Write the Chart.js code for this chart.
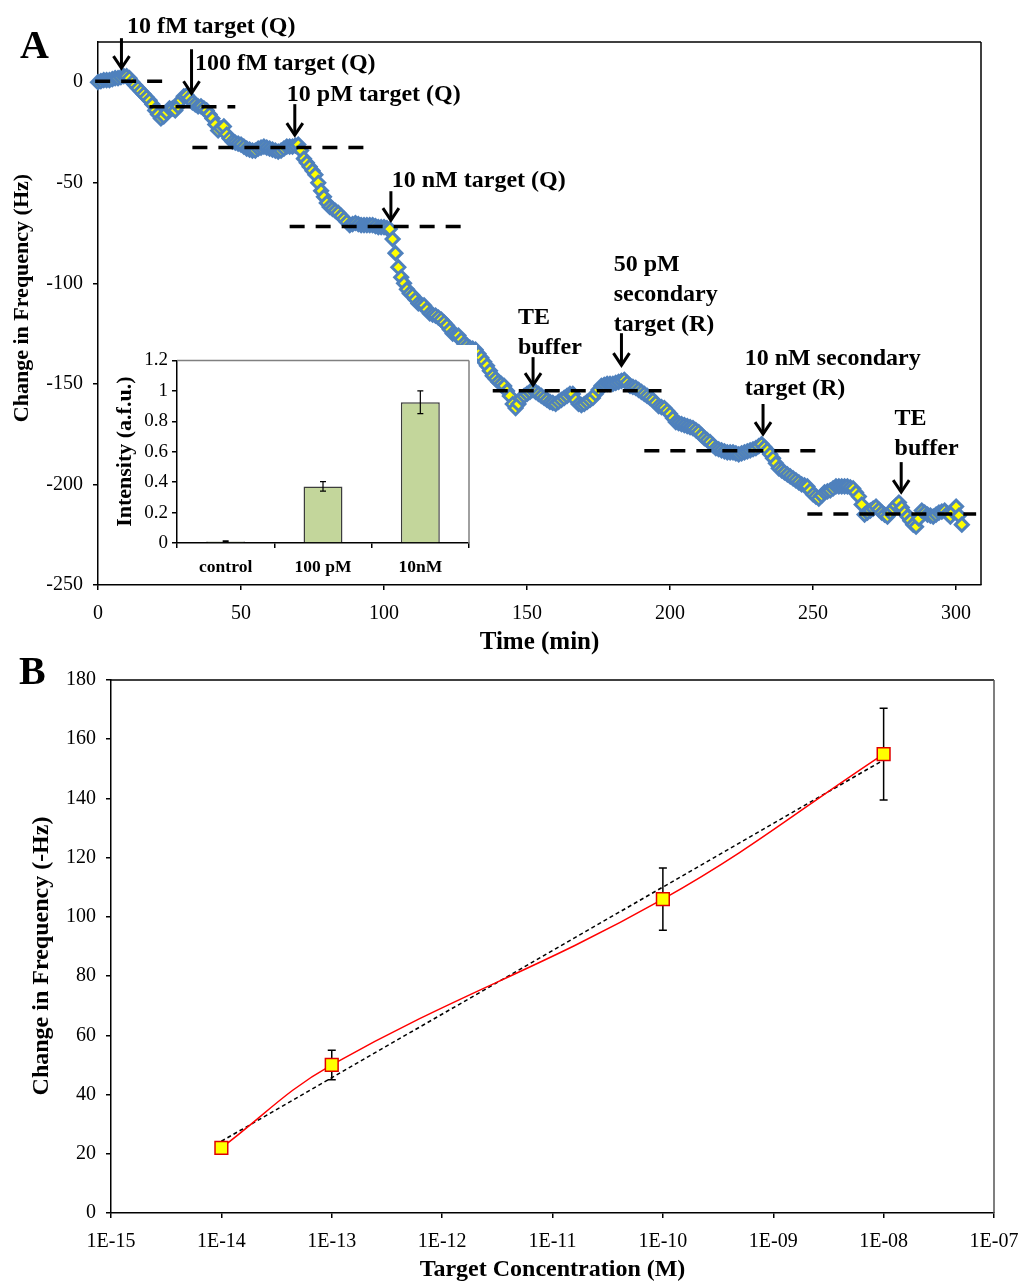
<!DOCTYPE html>
<html>
<head>
<meta charset="utf-8">
<script src="https://cdn.jsdelivr.net/npm/chart.js@4.4.1/dist/chart.umd.min.js"></script>
<style>
  html, body { margin: 0; padding: 0; background: #fff; }
  body { width: 1023px; height: 1284px; position: relative; overflow: hidden; }
  .panel { position: absolute; }
  #insetBox { background: #fff; }
</style>
</head>
<body>
<div class="panel" id="boxA" style="left:0;top:0;width:1023px;height:658px;"><canvas id="chartA"></canvas></div>
<div class="panel" id="insetBox" style="left:100px;top:345px;width:377px;height:239px;"><canvas id="chartInset"></canvas></div>
<div class="panel" id="boxB" style="left:0;top:658px;width:1023px;height:626px;"><canvas id="chartB"></canvas></div>

<script>
// ---------- Panel A: frequency shift vs time (one reading per minute) ----------
const SAMPLE_STEP_MIN = 1;
const freqShiftHz = [
  0, 0.5, 1, 1, 1, 1.5, 2, 2, 2.5, 3,
  3, 2, 0, -1.5, -3, -4.5, -6, -7.5, -9, -11,
  -14, -16, -18, -17, -15, -13, -13, -14, -12, -9,
  -7, -6.5, -8, -10, -11, -12, -12, -13, -14, -16,
  -18, -21, -24, -23, -22, -26, -28, -29.5, -30, -30.5,
  -31, -32, -33, -33.5, -34, -34, -33, -32.5, -32, -32.5,
  -33, -33.5, -34, -34.5, -34, -33, -32, -32, -32, -31.5,
  -31, -34, -38, -40, -42, -44, -46, -50, -54, -57,
  -60, -62, -63, -64, -65, -66.5, -68, -69.5, -71, -70.5,
  -70, -70.5, -71, -71, -71, -71, -71, -71.5, -72, -72,
  -72, -72.5, -73, -78, -85, -92, -97, -100, -103, -105,
  -106, -108, -110, -110.5, -111, -113, -115, -115.5, -116, -117,
  -118, -119.5, -121, -123, -125, -125.5, -126, -128, -130, -131,
  -132, -132.5, -133, -135, -137, -139, -141, -143.5, -146, -147.5,
  -149, -150, -151, -153.5, -156, -160, -162, -160, -157, -156,
  -155, -154, -153, -154, -155, -156, -157, -158, -159, -159.5,
  -160, -159, -158, -157, -156, -155, -155, -158, -160, -160.5,
  -160, -159, -158, -157, -155, -153, -151, -150.5, -150, -150,
  -150, -149.5, -149, -148.5, -148, -149.5, -151, -151.5, -152, -153,
  -154, -155, -156, -157, -158, -159.5, -161, -161.5, -162, -163.5,
  -165, -167, -169, -169.5, -170, -170.5, -171, -171.5, -172, -173,
  -174, -175.5, -177, -178, -179, -180.5, -182, -182.5, -183, -183.5,
  -184, -184, -184, -184.5, -185, -184.5, -184, -183.5, -183, -182.5,
  -182, -181, -180, -181.5, -183, -185, -187, -189.5, -192, -193,
  -194, -195, -196, -197, -198, -199, -200, -200.5, -201, -203,
  -205, -206, -207, -205.5, -204, -203.5, -203, -202, -201, -201,
  -201, -201, -201, -201.5, -202, -204, -206, -210, -215, -214,
  -213, -212, -211, -212.5, -214, -215, -216, -214, -212, -210.5,
  -209, -211.5, -214, -216, -218, -220, -221, -217, -213, -214,
  -215, -215.5, -216, -215, -214, -213.5, -213, -214.5, -216, -213.5,
  -211, -215.5, -220
];
const timeTicks = [0, 50, 100, 150, 200, 250, 300];
const freqTicks = [-250, -200, -150, -100, -50, 0];

// steady-state levels after each addition
const plateauStartMin = [-1, 18, 33, 67, 138, 191, 248];
const plateauEndMin   = [25, 48, 93, 127, 197, 251, 307];
const plateauHz       = [0.5, -12.2, -32.5, -71.8, -153.4, -183.2, -214.7];

// additions marked on the trace (text anchor and arrow given in min / Hz)
const additions = [
  { lines: ['10 fM target (Q)'], t: 10.1, hz: 27.8, arrowT: 8.2, arrowFrom: 21.9, arrowTo: 7 },
  { lines: ['100 fM target (Q)'], t: 33.9, hz: 9.4, arrowT: 32.7, arrowFrom: 16.4, arrowTo: -5.5 },
  { lines: ['10 pM target (Q)'], t: 66.0, hz: -6.5, arrowT: 68.8, arrowFrom: -10.9, arrowTo: -26.3 },
  { lines: ['10 nM target (Q)'], t: 102.7, hz: -49.2, arrowT: 102.4, arrowFrom: -54.2, arrowTo: -68.6 },
  { lines: ['TE', 'buffer'], t: 146.8, hz: -117.3, arrowT: 152.1, arrowFrom: -136.7, arrowTo: -150.6 },
  { lines: ['50 pM', 'secondary', 'target (R)'], t: 180.3, hz: -91.0, arrowT: 183.0, arrowFrom: -124.8, arrowTo: -140.7 },
  { lines: ['10 nM secondary', 'target (R)'], t: 226.1, hz: -137.7, arrowT: 232.5, arrowFrom: -160, arrowTo: -175 },
  { lines: ['TE', 'buffer'], t: 278.5, hz: -167.5, arrowT: 280.8, arrowFrom: -188.9, arrowTo: -203.8 }
];

// ---------- Inset: fluorescence intensity ----------
const insetCategories = ['control', '100 pM', '10nM'];
const insetIntensity = [0.01, 0.372, 0.925];
const insetError = [0.004, 0.031, 0.075];
const insetTicks = [0, 0.2, 0.4, 0.6, 0.8, 1, 1.2];

// ---------- Panel B: calibration ----------
const concLabels = ['1E-14', '1E-13', '1E-10', '1E-08'];
const shiftB = [22, 50, 106, 155];
const shiftBErr = [1.5, 5, 10.5, 15.5];
const concTickLabels = ['1E-15', '1E-14', '1E-13', '1E-12', '1E-11', '1E-10', '1E-09', '1E-08', '1E-07'];
const shiftBTicks = [0, 20, 40, 60, 80, 100, 120, 140, 160, 180];

// ---------------------------------------------------------------
const SERIF = "'Liberation Serif', 'Times New Roman', serif";
Chart.defaults.font.family = SERIF;
Chart.defaults.color = '#000';

const concValues = concLabels.map(Number);

// least-squares line of shift vs log10(concentration)
const logC = concValues.map(Math.log10);
const nB = logC.length;
const meanX = logC.reduce((a, b) => a + b, 0) / nB;
const meanY = shiftB.reduce((a, b) => a + b, 0) / nB;
let sxy = 0, sxx = 0;
logC.forEach((lx, i) => { sxy += (lx - meanX) * (shiftB[i] - meanY); sxx += (lx - meanX) ** 2; });
const fitSlope = sxy / sxx;
const fitIcpt = meanY - fitSlope * meanX;
const fitPoints = [concValues[0], concValues[nB - 1]].map(c => ({ x: c, y: fitIcpt + fitSlope * Math.log10(c) }));

// outline of the plot area (top and right edges)
const frame = {
  id: 'frame',
  afterDatasetsDraw(chart, args, opts) {
    const { ctx, chartArea: { left, right, top, bottom } } = chart;
    ctx.save();
    ctx.lineWidth = opts.width || 1.5;
    ctx.strokeStyle = opts.topColor || '#000';
    ctx.beginPath(); ctx.moveTo(left, top); ctx.lineTo(right, top); ctx.stroke();
    ctx.strokeStyle = opts.rightColor || '#000';
    ctx.beginPath(); ctx.moveTo(right, top); ctx.lineTo(right, bottom); ctx.stroke();
    ctx.restore();
  }
};

// panel letter and the rotated y-axis title
const panelText = {
  id: 'panelText',
  afterDraw(chart, args, opts) {
    const { ctx } = chart;
    ctx.save();
    ctx.fillStyle = '#000';
    ctx.font = 'bold 40px ' + SERIF;
    ctx.textBaseline = 'alphabetic';
    ctx.textAlign = 'left';
    ctx.fillText(opts.letter, opts.letterX, opts.letterY);
    ctx.translate(opts.titleX, opts.titleY);
    ctx.rotate(-Math.PI / 2);
    ctx.font = 'bold ' + opts.titleSize + 'px ' + SERIF;
    ctx.textAlign = 'center';
    ctx.textBaseline = 'middle';
    ctx.fillText(opts.title, 0, 0);
    ctx.restore();
  }
};

// vertical error bars with caps
const errorBars = {
  id: 'errorBars',
  draw(chart, opts) {
    const meta = chart.getDatasetMeta(opts.datasetIndex);
    const ds = chart.data.datasets[opts.datasetIndex];
    const yScale = chart.scales.y;
    const { ctx } = chart;
    ctx.save();
    ctx.strokeStyle = opts.color || '#000';
    ctx.lineWidth = opts.width || 1.5;
    meta.data.forEach((el, i) => {
      const raw = ds.data[i];
      const v = typeof raw === 'object' ? raw.y : raw;
      const e = opts.errors[i];
      const x = el.x;
      const yHi = yScale.getPixelForValue(v + e);
      const yLo = yScale.getPixelForValue(v - e);
      ctx.beginPath();
      ctx.moveTo(x, yHi); ctx.lineTo(x, yLo);
      ctx.moveTo(x - opts.cap, yHi); ctx.lineTo(x + opts.cap, yHi);
      ctx.moveTo(x - opts.cap, yLo); ctx.lineTo(x + opts.cap, yLo);
      ctx.stroke();
    });
    ctx.restore();
  },
  beforeDatasetsDraw(chart, args, opts) { if (opts.layer === 'below') this.draw(chart, opts); },
  afterDatasetsDraw(chart, args, opts) { if (opts.layer !== 'below') this.draw(chart, opts); }
};

// arrows and text for each addition
const additionNotes = {
  id: 'additionNotes',
  afterDatasetsDraw(chart, args, opts) {
    const { ctx, scales: { x, y } } = chart;
    ctx.save();
    ctx.fillStyle = '#000';
    ctx.strokeStyle = '#000';
    ctx.font = 'bold 24px ' + SERIF;
    ctx.textAlign = 'left';
    ctx.textBaseline = 'middle';
    opts.items.forEach(a => {
      const tx = x.getPixelForValue(a.t);
      const ty = y.getPixelForValue(a.hz);
      a.lines.forEach((line, k) => ctx.fillText(line, tx, ty + k * 30));
      const ax = x.getPixelForValue(a.arrowT);
      const y0 = y.getPixelForValue(a.arrowFrom);
      const y1 = y.getPixelForValue(a.arrowTo);
      ctx.lineWidth = 3;
      ctx.lineJoin = 'miter';
      ctx.beginPath();
      ctx.moveTo(ax, y0); ctx.lineTo(ax, y1 - 1);
      ctx.stroke();
      ctx.beginPath();
      ctx.moveTo(ax - 8, y1 - 12); ctx.lineTo(ax, y1); ctx.lineTo(ax + 8, y1 - 12);
      ctx.stroke();
    });
    ctx.restore();
  }
};

const tickMarks = (len) => ({ drawOnChartArea: false, drawTicks: true, tickLength: len, color: '#000', lineWidth: 1.5 });

// ---------------- Panel A ----------------
const traceData = freqShiftHz.map((v, i) => ({ x: i * SAMPLE_STEP_MIN, y: v }));
const plateauSets = plateauHz.map((hz, i) => ({
  type: 'line',
  data: [{ x: plateauStartMin[i], y: hz }, { x: plateauEndMin[i], y: hz }],
  borderColor: '#000',
  borderWidth: 3.5,
  borderDash: [15, 11],
  pointRadius: 0,
  order: 1,
  clip: false
}));

new Chart(document.getElementById('chartA'), {
  type: 'scatter',
  data: {
    datasets: [
      ...plateauSets,
      {
        data: traceData,
        showLine: false,
        pointStyle: 'rectRot',
        pointRadius: 6.5,
        pointBorderWidth: 3,
        pointBackgroundColor: '#FFFF00',
        pointBorderColor: '#4F81BD',
        order: 2,
        clip: false
      }
    ]
  },
  options: {
    responsive: true,
    maintainAspectRatio: false,
    animation: false,
    events: [],
    layout: { padding: { left: 0, top: 42, right: 42, bottom: 0 } },
    plugins: {
      legend: { display: false },
      tooltip: { enabled: false },
      frame: { topColor: '#000', rightColor: '#000' },
      panelText: { letter: 'A', letterX: 20, letterY: 58, title: 'Change in Frequency (Hz)', titleSize: 22, titleX: 22, titleY: 298 },
      additionNotes: { items: additions }
    },
    scales: {
      x: {
        type: 'linear', min: 0, max: 308.7,
        afterBuildTicks: s => { s.ticks = timeTicks.map(v => ({ value: v })); },
        afterFit: s => { s.height = 73; s.paddingLeft = 0; s.paddingRight = 0; },
        ticks: { font: { size: 20 }, padding: 12, maxRotation: 0, autoSkip: false, callback: v => String(v) },
        grid: tickMarks(5),
        border: { color: '#000', width: 1.5 },
        title: { display: true, text: 'Time (min)', font: { size: 25, weight: 'bold' }, padding: { top: 0, bottom: 0 } }
      },
      y: {
        type: 'linear', min: -250, max: 20,
        afterBuildTicks: s => { s.ticks = freqTicks.map(v => ({ value: v })); },
        afterFit: s => { s.width = 98; },
        ticks: { font: { size: 20 }, padding: 10, autoSkip: false, callback: v => String(v) },
        grid: tickMarks(5),
        border: { color: '#000', width: 1.5 }
      }
    }
  },
  plugins: [frame, panelText, additionNotes]
});

// ---------------- Inset ----------------
new Chart(document.getElementById('chartInset'), {
  type: 'bar',
  data: {
    labels: insetCategories,
    datasets: [{
      data: insetIntensity,
      backgroundColor: '#C3D69B',
      borderColor: '#3C3C3C',
      borderWidth: 1.5,
      barPercentage: 0.4,
      categoryPercentage: 1
    }]
  },
  options: {
    responsive: true,
    maintainAspectRatio: false,
    animation: false,
    events: [],
    layout: { padding: { left: 0, top: 15, right: 8, bottom: 0 } },
    plugins: {
      legend: { display: false },
      tooltip: { enabled: false },
      frame: { topColor: '#808080', rightColor: '#808080', width: 1.5 },
      errorBars: { datasetIndex: 0, errors: insetError, cap: 3, width: 1.2, layer: 'above' }
    },
    scales: {
      x: {
        afterFit: s => { s.height = 41; },
        ticks: { font: { size: 17.5, weight: 'bold' }, padding: 9, maxRotation: 0 },
        grid: { ...tickMarks(5), offset: true },
        border: { color: '#000', width: 1.5 }
      },
      y: {
        min: 0, max: 1.2,
        afterBuildTicks: s => { s.ticks = insetTicks.map(v => ({ value: v })); },
        afterFit: s => { s.width = 77; },
        ticks: { font: { size: 19 }, padding: 4, callback: v => String(v) },
        grid: tickMarks(5),
        border: { color: '#000', width: 1.5 },
        title: { display: true, text: 'Intensity (a.f.u.)', font: { size: 22, weight: 'bold' }, padding: { top: 12, bottom: 0 } }
      }
    }
  },
  plugins: [frame, errorBars]
});

// ---------------- Panel B ----------------
new Chart(document.getElementById('chartB'), {
  type: 'scatter',
  data: {
    datasets: [
      {
        data: concValues.map((c, i) => ({ x: c, y: shiftB[i] })),
        showLine: true,
        tension: 0.4,
        borderColor: '#FF0000',
        borderWidth: 1.5,
        pointStyle: 'rect',
        pointRadius: 9,
        pointBorderWidth: 1.5,
        pointBackgroundColor: '#FFFF00',
        pointBorderColor: '#E00000',
        order: 1
      },
      {
        data: fitPoints,
        showLine: true,
        borderColor: '#000',
        borderWidth: 1.5,
        borderDash: [4, 3],
        pointRadius: 0,
        order: 2
      }
    ]
  },
  options: {
    responsive: true,
    maintainAspectRatio: false,
    animation: false,
    events: [],
    layout: { padding: { left: 0, top: 14, right: 29, bottom: 0 } },
    plugins: {
      legend: { display: false },
      tooltip: { enabled: false },
      frame: { topColor: '#000', rightColor: '#555' },
      panelText: { letter: 'B', letterX: 19, letterY: 26, title: 'Change in Frequency (-Hz)', titleSize: 24, titleX: 42, titleY: 298 },
      errorBars: { datasetIndex: 0, errors: shiftBErr, cap: 4, width: 1.5, layer: 'below' }
    },
    scales: {
      x: {
        type: 'logarithmic', min: 1e-15, max: 1e-7,
        afterBuildTicks: s => { s.ticks = concTickLabels.map(l => ({ value: Number(l) })); },
        afterFit: s => { s.height = 71; s.paddingLeft = 0; s.paddingRight = 0; },
        ticks: { font: { size: 20 }, padding: 12, maxRotation: 0, autoSkip: false, callback: (v, i) => concTickLabels[i] },
        grid: tickMarks(5),
        border: { color: '#000', width: 1.5 },
        title: { display: true, text: 'Target Concentration (M)', font: { size: 24, weight: 'bold' }, padding: { top: 0, bottom: 0 } }
      },
      y: {
        type: 'linear', min: 0, max: 180,
        afterBuildTicks: s => { s.ticks = shiftBTicks.map(v => ({ value: v })); },
        afterFit: s => { s.width = 111; },
        ticks: { font: { size: 20 }, padding: 10, autoSkip: false, callback: v => String(v) },
        grid: tickMarks(5),
        border: { color: '#000', width: 1.5 }
      }
    }
  },
  plugins: [frame, panelText, errorBars]
});
</script>
</body>
</html>
